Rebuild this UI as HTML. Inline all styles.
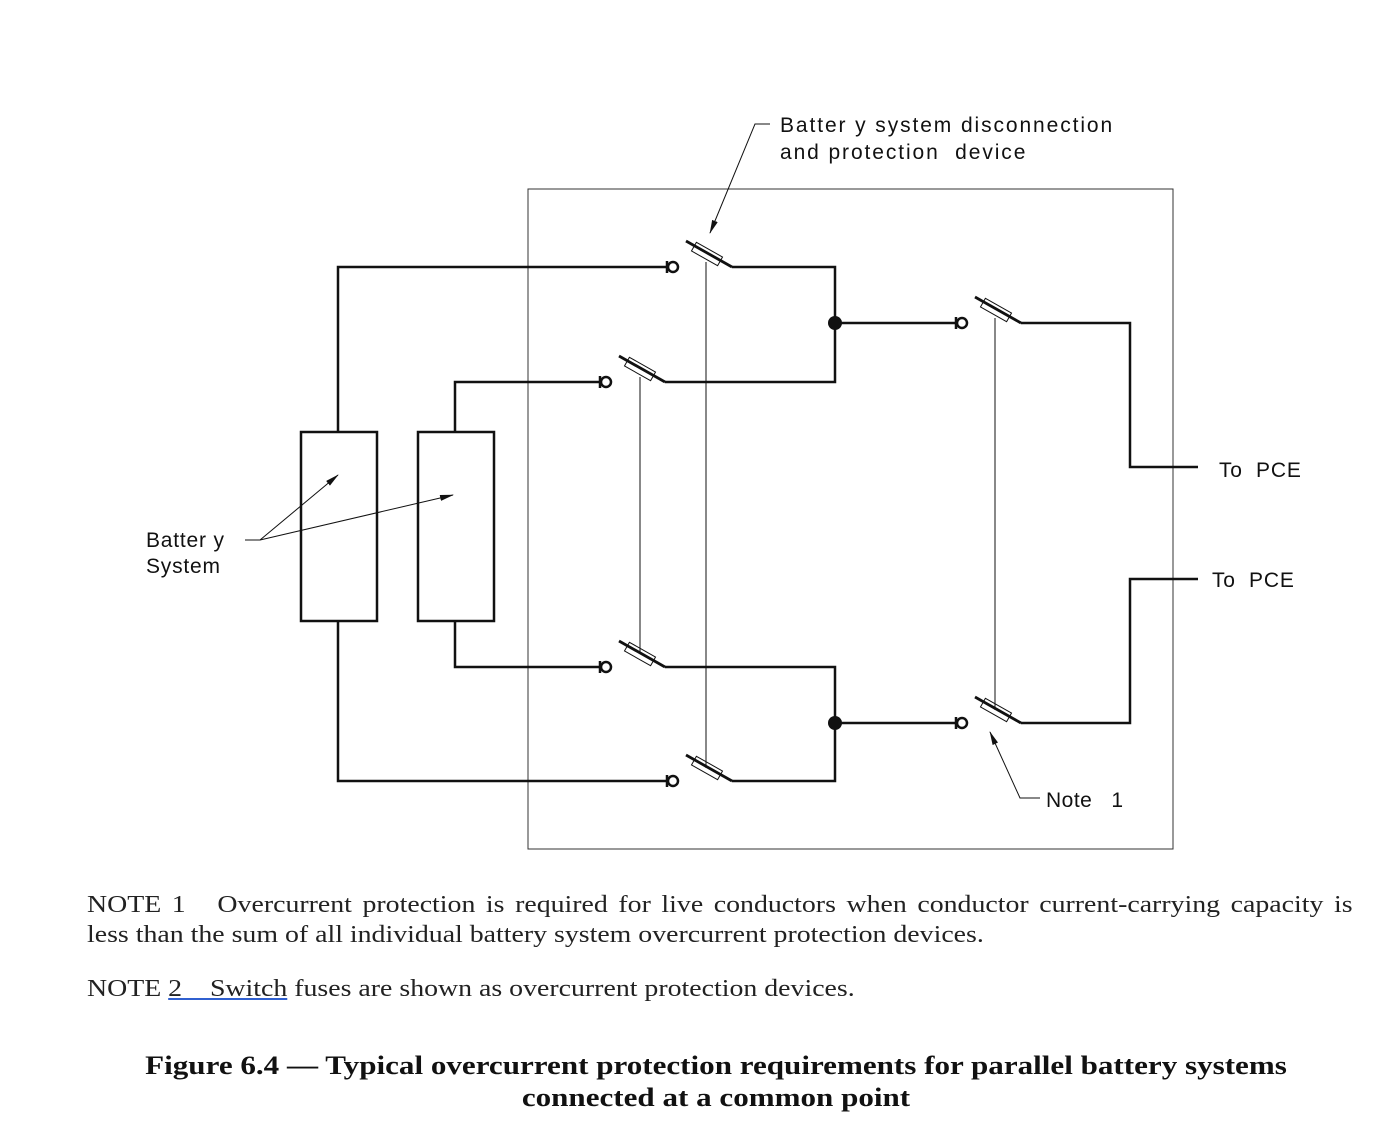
<!DOCTYPE html>
<html><head><meta charset="utf-8"><style>
html,body{margin:0;padding:0;background:#fff;}
body{width:1396px;height:1144px;position:relative;overflow:hidden;}
.n{position:absolute;left:87px;font-family:"Liberation Serif",serif;font-size:24px;color:#222;line-height:30px;transform:scaleX(1.16);transform-origin:0 0;white-space:nowrap;}
</style></head><body>
<svg width="1396" height="1144" style="position:absolute;left:0;top:0" xmlns="http://www.w3.org/2000/svg">
<defs>
<g id="sw">
<circle cx="0" cy="0" r="5" fill="none" stroke="#111" stroke-width="2.5"/>
<line x1="-6" y1="-6" x2="-6" y2="6" stroke="#111" stroke-width="2.5"/>
<line x1="13" y1="-26" x2="59" y2="0" stroke="#111" stroke-width="2.8"/>
<rect x="-15" y="-5" width="30" height="10" fill="none" stroke="#111" stroke-width="1" transform="translate(34,-13) rotate(29.5)"/>
</g>
<marker id="ar" markerWidth="14" markerHeight="6" refX="13" refY="3" orient="auto" markerUnits="userSpaceOnUse"><path d="M0,0 L14,3 L0,6 Z" fill="#111"/></marker>
</defs>
<rect x="528" y="189" width="645" height="660" fill="none" stroke="#333" stroke-width="1"/>
<g fill="none" stroke="#111" stroke-width="2.5">
<rect x="301" y="432" width="76" height="189"/>
<rect x="418" y="432" width="76" height="189"/>
<polyline points="338,432 338,267 667,267"/>
<polyline points="455,432 455,382 600,382"/>
<polyline points="455,621 455,667 600,667"/>
<polyline points="338,621 338,781 667,781"/>
<polyline points="732,267 835,267 835,382 665,382"/>
<polyline points="665,667 835,667 835,781 732,781"/>
<line x1="835" y1="323" x2="956" y2="323"/>
<line x1="835" y1="723" x2="956" y2="723"/>
<polyline points="1021,323 1130,323 1130,467 1198,467"/>
<polyline points="1021,723 1130,723 1130,579 1198,579"/>
</g>
<circle cx="835" cy="323" r="7" fill="#111"/>
<circle cx="835" cy="723" r="7" fill="#111"/>
<use href="#sw" x="673" y="267"/>
<use href="#sw" x="606" y="382"/>
<use href="#sw" x="606" y="667"/>
<use href="#sw" x="673" y="781"/>
<use href="#sw" x="962" y="323"/>
<use href="#sw" x="962" y="723"/>
<g stroke="#111" stroke-width="1">
<line x1="706" y1="262" x2="706" y2="768"/>
<line x1="640" y1="377" x2="640" y2="654"/>
<line x1="995" y1="318" x2="995" y2="710"/>
<polyline points="770,124 755,124 710,233" fill="none" marker-end="url(#ar)"/>
<polyline points="245,540 260,540 338,475" fill="none" marker-end="url(#ar)"/>
<line x1="260" y1="540" x2="453" y2="495" marker-end="url(#ar)"/>
<polyline points="1040,798 1020,798 990,732" fill="none" marker-end="url(#ar)"/>
</g>
<g font-family="Liberation Sans, sans-serif" font-size="21" fill="#111">
<text x="780" y="132" letter-spacing="1.9">Batter y system disconnection</text>
<text x="780" y="159" letter-spacing="1.9">and protection&#160; device</text>
<text x="146" y="547" letter-spacing="0.8">Batter y</text>
<text x="146" y="573" letter-spacing="0.8">System</text>
<text x="1219" y="477" letter-spacing="0.8">To&#160; PCE</text>
<text x="1212" y="587" letter-spacing="0.8">To&#160; PCE</text>
<text x="1046" y="807" letter-spacing="0.5">Note&#160;&#160; 1</text>
</g>
</svg>
<div class="n" style="top:890px;width:1091px;text-align:justify;text-align-last:justify;white-space:normal;">NOTE 1&nbsp;&nbsp; Overcurrent protection is required for live conductors when conductor current-carrying capacity is</div>
<div class="n" style="top:920px;">less than the sum of all individual battery system overcurrent protection devices.</div>
<div class="n" style="top:974px;">NOTE <span style="text-decoration:underline;text-decoration-color:#3060d0;">2&nbsp;&nbsp;&nbsp; Switch</span> fuses are shown as overcurrent protection devices.</div>
<div style="position:absolute;left:0;width:1432px;top:1050px;text-align:center;font-family:'Liberation Serif',serif;font-weight:bold;font-size:26px;line-height:32px;color:#111;transform:scaleX(1.195);transform-origin:716px 0;">Figure 6.4 — Typical overcurrent protection requirements for parallel battery systems<br>connected at a common point</div>
</body></html>
